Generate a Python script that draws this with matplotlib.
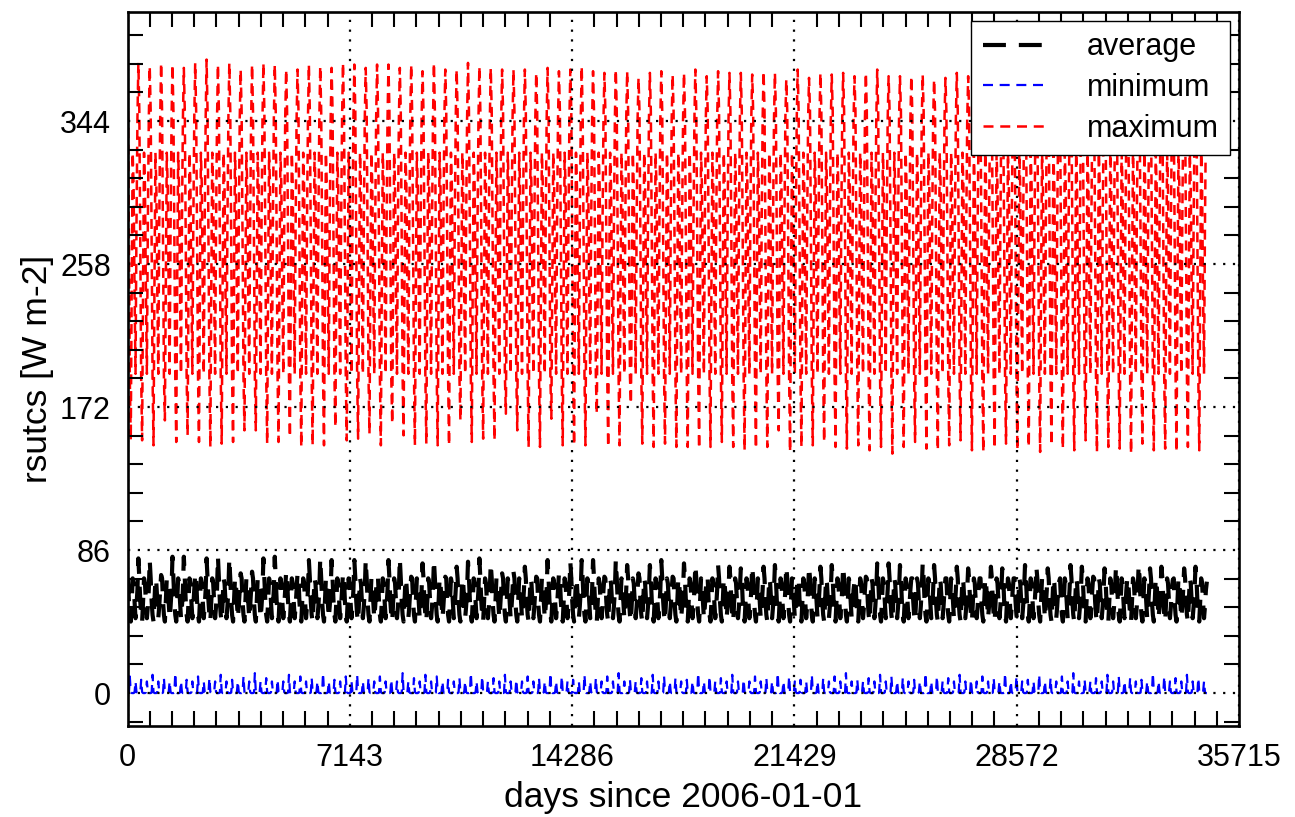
import numpy as np
import pandas as pd
import matplotlib
matplotlib.use("Agg")
import matplotlib.pyplot as plt
from matplotlib.ticker import MultipleLocator, FixedLocator

plt.rcParams['font.family'] = ['Liberation Sans', 'DejaVu Sans']
plt.rcParams['path.simplify'] = False

# monthly means 2006-01 .. 2100-12
start_year, n_years = 2006, 95

# typical seasonal cycle (Jan..Dec)
avg_clim = [69, 55, 47, 43, 55, 69, 66, 55, 45, 52, 62, 79]
min_clim = [0.0, 0.3, 9.0, 0.6, 0.0, 0.0, 0.0, 0.4, 7.0, 0.6, 0.0, 0.0]
max_clim = [350, 270, 190, 152, 245, 325, 305, 240, 192, 280, 345, 378]

# year by year December peak / April trough of the maximum
max_dec = [379, 377, 379, 378, 376, 379, 381, 378, 379, 375, 378, 379, 378, 375, 375, 378, 377, 376, 379, 378,
           376, 378, 378, 376, 378, 374, 379, 375, 375, 379, 377, 376, 375, 375, 375, 373, 376, 374, 375, 377,
           374, 373, 375, 374, 370, 373, 374, 372, 373, 375, 371, 374, 373, 373, 372, 374, 373, 369, 375, 370,
           373, 372, 373, 371, 373, 375, 371, 371, 371, 372, 369, 370, 373, 371, 372, 370, 372, 369, 371, 373,
           370, 372, 368, 371, 370, 372, 369, 371, 370, 368, 371, 372, 369, 370, 371]
max_apr = [152, 152, 149, 164, 151, 155, 151, 148, 150, 151, 158, 158, 150, 151, 154, 148, 149, 149, 160, 152,
           153, 156, 149, 162, 155, 149, 150, 149, 149, 164, 151, 153, 152, 168, 158, 148, 148, 165, 149, 149,
           149, 168, 148, 149, 174, 150, 148, 150, 148, 148, 147, 148, 151, 148, 146, 147, 148, 158, 145, 148,
           149, 151, 148, 147, 149, 146, 148, 144, 148, 151, 147, 146, 149, 152, 146, 145, 147, 150, 146, 148,
           145, 149, 147, 146, 152, 145, 148, 147, 144, 150, 146, 147, 145, 148, 146]
# year by year December peak of the average
avg_dec = [81, 80, 71, 82, 82, 72, 81, 82, 81, 72, 73, 81, 82, 73, 72, 80, 81, 80, 72, 80,
           80, 70, 80, 81, 70, 78, 80, 70, 76, 79, 81, 78, 72, 73, 76, 70, 80, 72, 79, 80,
           80, 70, 80, 77, 72, 77, 80, 70, 78, 77, 70, 77, 76, 75, 76, 76, 77, 76, 69, 76,
           76, 77, 76, 67, 70, 78, 78, 77, 69, 78, 77, 69, 76, 75, 69, 76, 75, 69, 77, 76,
           75, 67, 77, 76, 70, 75, 76, 69, 77, 75, 76, 68, 75, 76, 67]
# year by year March spike of the minimum
min_mar = [10, 8, 11, 9, 12, 8, 10, 9, 11, 8, 10, 12, 9, 8, 11, 10, 9, 12, 8, 10,
           11, 9, 10, 8, 12, 9, 11, 10, 8, 9, 12, 10, 9, 11, 8, 10, 9, 12, 10, 8,
           11, 9, 10, 12, 8, 9, 11, 10, 9, 8, 12, 10, 9, 11, 8, 10, 9, 12, 10, 8,
           11, 9, 10, 12, 8, 9, 11, 10, 9, 8, 12, 10, 9, 11, 8, 10, 9, 12, 10, 8,
           11, 9, 10, 12, 8, 9, 11, 10, 9, 8, 12, 10, 9, 11, 9]

labels = ['average', 'minimum', 'maximum']
x_ticks = [0, 7143, 14286, 21429, 28572, 35715]
y_ticks = [0, 86, 172, 258, 344]

# build monthly series
avg = np.tile(avg_clim, n_years).astype(float).reshape(n_years, 12)
mn = np.tile(min_clim, n_years).astype(float).reshape(n_years, 12)
mx = np.tile(max_clim, n_years).astype(float).reshape(n_years, 12)
avg[:, 11] = avg_dec
mx[:, 11] = max_dec
mx[:, 3] = max_apr
mn[:, 2] = min_mar
avg, mn, mx = avg.ravel(), mn.ravel(), mx.ravel()

dates = pd.date_range(f'{start_year}-01-01', periods=n_years * 12, freq='MS')
days = (dates - pd.Timestamp('2006-01-01')).days.values + 15

fig = plt.figure(figsize=(12.95, 8.17), dpi=100)
ax = fig.add_axes([127.5 / 1295, 1 - 726 / 817, 1111.5 / 1295, 714 / 817])

ax.plot(days, avg, color='black', lw=3.0, ls=(0, (5.5, 3.1)), label=labels[0], zorder=2)
ax.plot(days, mn, color='blue', lw=1.6, ls=(0, (4.5, 3.0)), label=labels[1], zorder=2)
ax.plot(days, mx, color='red', lw=1.8, ls=(0, (4.0, 2.7)), label=labels[2], zorder=2)

ax.set_xlim(0, 35715)
ax.set_ylim(-19.8, 409.6)

# major ticks are dotted grid lines, minor ticks are short solid marks
ax.xaxis.set_major_locator(FixedLocator(x_ticks))
ax.yaxis.set_major_locator(FixedLocator(y_ticks))
ax.xaxis.set_minor_locator(MultipleLocator(35715 / 50))
ax.yaxis.set_minor_locator(MultipleLocator(17.2))
ax.tick_params(which='major', length=0, labelsize=22, pad=12)
ax.tick_params(which='minor', direction='in', length=11, width=1.5,
               top=True, right=True, bottom=True, left=True)
ax.grid(True, which='major', color='black', lw=1.6, ls=(0, (1, 3.4)), zorder=3)
ax.set_axisbelow(False)
for s in ax.spines.values():
    s.set_linewidth(1.9)
    s.set_zorder(4)

ax.set_xlabel('days since 2006-01-01', fontsize=25.5, labelpad=6)
ax.set_ylabel('rsutcs [W m-2]', fontsize=25.5, labelpad=4)

leg = ax.legend(loc='upper right', bbox_to_anchor=(0.9919, 0.9874), borderaxespad=0,
                fontsize=22, fancybox=False, edgecolor='black', framealpha=1,
                handlelength=2.0, handletextpad=1.4, labelspacing=0.355, borderpad=0.37)
leg.get_frame().set_linewidth(1.0)
leg.set_zorder(5)

fig.savefig('out.png', dpi=100)
